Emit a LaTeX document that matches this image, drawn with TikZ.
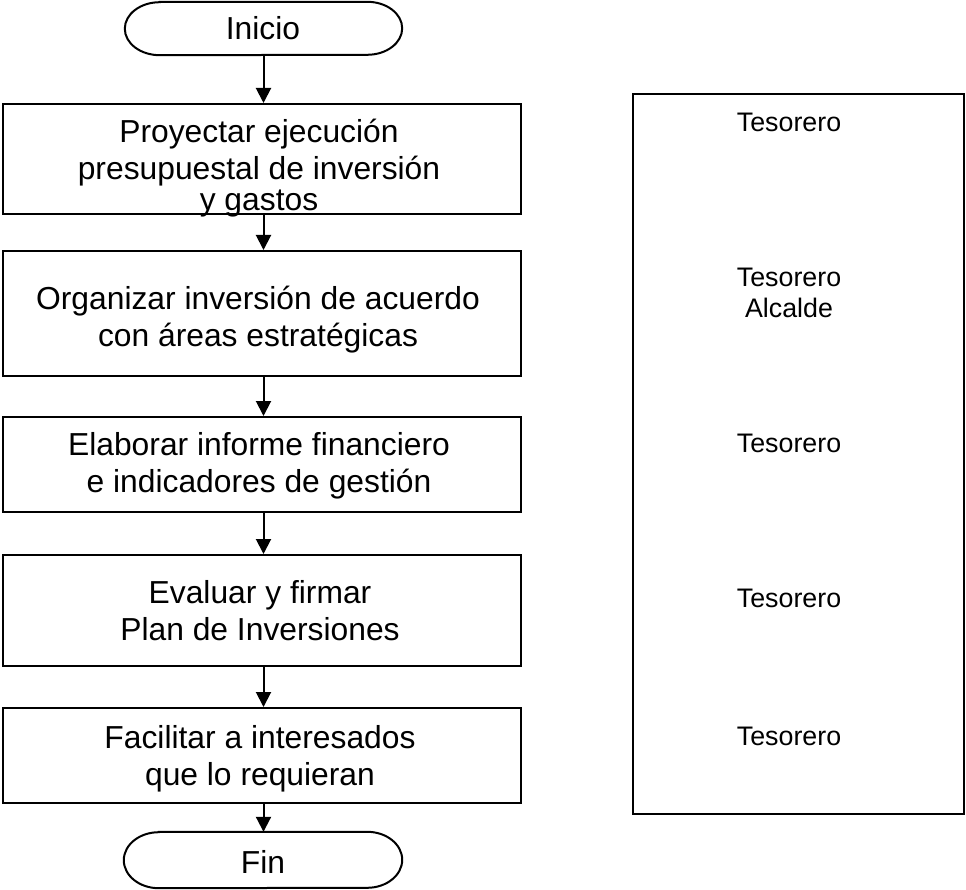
\documentclass[tikz,border=0pt]{standalone}
\usepackage{fontspec}
\setmainfont{Liberation Sans}
\usetikzlibrary{arrows.meta}
\tikzset{
  stepbox/.style={draw=black, line width=2pt, rectangle, inner sep=0pt, minimum width=518pt},
  term/.style={draw=none, rectangle, inner sep=0pt},
  maintxt/.style={inner sep=0pt, anchor=base, align=center, font=\fontsize{31.8}{37}\selectfont},
  roletxt/.style={inner sep=0pt, anchor=base, align=center, font=\fontsize{26.8}{31}\selectfont},
  flow/.style={line width=2pt, -{Triangle[width=15pt,length=15pt]}},
  outline/.style={draw=black, line width=2pt}
}
\begin{document}
\begin{tikzpicture}[x=1pt,y=-1pt]
\useasboundingbox (0,0) rectangle (966,890);
% terminals
\node[term, minimum width=277pt, minimum height=53pt] (inicio) at (263.5,28.5) {};
\node[term, minimum width=278pt, minimum height=56pt] (fin) at (263,860) {};
\draw[outline] ([xshift=35pt]inicio.north west) -- ([xshift=-35pt]inicio.north east)
  arc[start angle=90,end angle=-90,x radius=35pt,y radius=26.5pt]
  -- ([xshift=35pt]inicio.south west)
  arc[start angle=270,end angle=90,x radius=35pt,y radius=26.5pt] -- cycle;
\draw[outline] ([xshift=35pt]fin.north west) -- ([xshift=-35pt]fin.north east)
  arc[start angle=90,end angle=-90,x radius=35pt,y radius=28pt]
  -- ([xshift=35pt]fin.south west)
  arc[start angle=270,end angle=90,x radius=35pt,y radius=28pt] -- cycle;
\node[maintxt] (tinicio) at (263,40) {Inicio};
\node[maintxt] (tfin) at (263,873) {Fin};
% process boxes
\node[stepbox, minimum height=110pt] (b1) at (262,159) {};
\node[stepbox, minimum height=125pt] (b2) at (262,313.5) {};
\node[stepbox, minimum height=95pt] (b3) at (262,464.5) {};
\node[stepbox, minimum height=111pt] (b4) at (262,610.5) {};
\node[stepbox, minimum height=95pt] (b5) at (262,755.5) {};
\node[maintxt] (t1) at (259,211) {Proyectar ejecución\\presupuestal de inversión\\[-6pt]y gastos};
\node[maintxt] (t2) at (258,347) {Organizar inversión de acuerdo\\con áreas estratégicas};
\node[maintxt] (t3) at (259,492) {Elaborar informe financiero\\e indicadores de gestión};
\node[maintxt] (t4) at (260,640) {Evaluar y firmar\\Plan de Inversiones};
\node[maintxt] (t5) at (260,785) {Facilitar a interesados\\que lo requieran};
% connectors
\draw[flow] (inicio.south) -- (inicio.south |- b1.north);
\draw[flow] (inicio.south |- b1.south) -- (inicio.south |- b2.north);
\draw[flow] (inicio.south |- b2.south) -- (inicio.south |- b3.north);
\draw[flow] (inicio.south |- b3.south) -- (inicio.south |- b4.north);
\draw[flow] (inicio.south |- b4.south) -- (inicio.south |- b5.north);
\draw[flow] (inicio.south |- b5.south) -- (inicio.south |- fin.north);
% responsibles
\node[draw=black, line width=2pt, rectangle, inner sep=0pt, minimum width=331pt, minimum height=720pt] (roles) at (798.5,454) {};
\node[roletxt] (r1) at (789,132) {Tesorero};
\node[roletxt] (r2) at (789,318) {Tesorero\\Alcalde};
\node[roletxt] (r3) at (789,452) {Tesorero};
\node[roletxt] (r4) at (789,607) {Tesorero};
\node[roletxt] (r5) at (789,745) {Tesorero};
\end{tikzpicture}
\end{document}
